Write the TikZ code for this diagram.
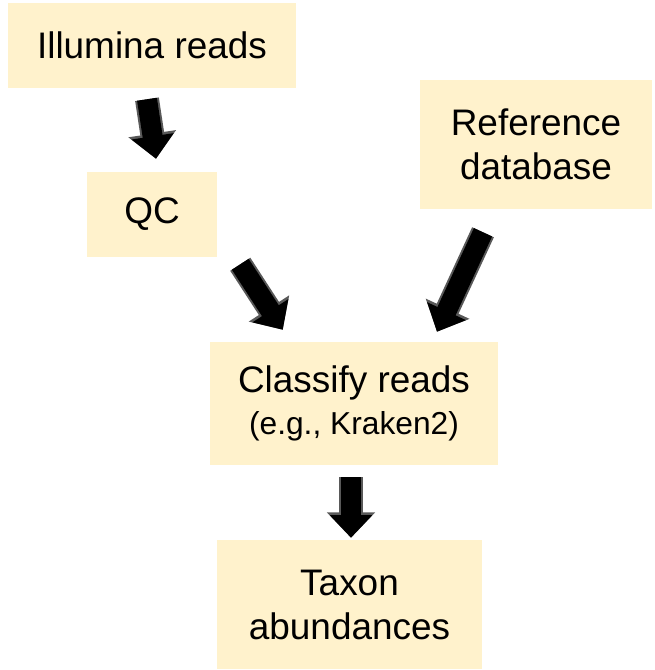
\documentclass[tikz,border=0pt]{standalone}
\usepackage{fontspec}
\setmainfont{Liberation Sans}
\usetikzlibrary{arrows.meta,calc}
\definecolor{boxfill}{HTML}{FFF2CC}
\definecolor{arrowrim}{HTML}{595959}
\begin{document}
\begin{tikzpicture}[
    x=0.75pt, y=-0.75pt,
    box/.style={fill=boxfill, inner sep=0pt, align=center, font=\fontsize{27.7}{33}\selectfont},
    fatarrow/.style={line width=15pt, draw=black, -{Triangle[width=31pt,length=17pt]},
        preaction={draw=arrowrim, line width=18pt, -{Triangle[width=35pt,length=19pt]}}}
]
\useasboundingbox (0,0) rectangle (654,670);
\node[box, minimum width=216pt, minimum height=63.75pt] (illumina) at (152,45.5) {Illumina reads};
\node[box, minimum width=97.5pt, minimum height=63.75pt] (qc) at (152,214.5) {QC};
\node[box, minimum width=174pt, minimum height=96.75pt] (refdb) at (536,144.5) {Reference\\database};
\node[box, minimum width=216pt, minimum height=92.25pt] (classify) at (354,403.5) {Classify reads\\[-2pt]{\fontsize{23.8}{28}\selectfont (e.g., Kraken2)}};
\node[box, minimum width=198.75pt, minimum height=96.75pt] (taxon) at (349.5,604.5) {Taxon\\abundances};

\draw[fatarrow] ($(illumina.south)+(-5,11)$) -- ($(qc.north)+(4,-13)$);
\draw[fatarrow] ($(qc.south east)+(23,7)$) -- ($(classify.north west)+(73,-12)$);
\draw[fatarrow] ($(refdb.south)+(-53,23)$) -- ($(classify.north)+(83,-10)$);
\draw[fatarrow] ($(classify.south)+(-3,12)$) -- ($(taxon.north)+(1.5,-2)$);
\end{tikzpicture}
\end{document}
